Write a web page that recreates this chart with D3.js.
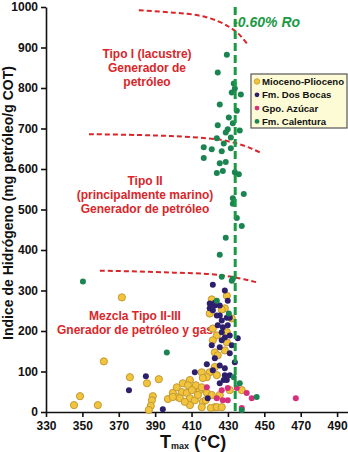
<!DOCTYPE html>
<html lang="en">
<head>
  <meta charset="UTF-8">
  <title>Indice de Hidrógeno vs Tmax</title>
  <script src="https://d3js.org/d3.v7.min.js"></script>
  <style>
    body { margin: 0; background: #fff; }
    svg { display: block; font-family: "Liberation Sans", Arial, sans-serif; }
    .axis text { font-size: 12px; font-weight: bold; fill: #111; }
    .axis path, .axis line { stroke: #111; stroke-width: 1.6px; }
    .zone { fill: #d9262a; font-size: 12px; font-weight: bold; text-anchor: middle; }
  </style>
</head>
<body>
  <div id="chart"></div>

  <script>
    const width = 348, height = 452;

    // series values as [Tmax °C, HI mg/g]
    const mioceno = [
      [371.7, 283], [361.8, 125], [376.1, 86], [348.7, 39], [345.4, 17], [358.5, 17],
      [385.5, 71], [392.0, 81], [397.0, 32], [388.7, 39], [388.2, 29], [387.6, 15],
      [386.5, 5], [399.7, 47], [402.5, 37], [420.0, 243], [428.3, 256], [432.1, 231],
      [421.7, 206], [429.4, 197], [423.9, 189], [421.7, 177], [429.4, 172], [428.3, 152],
      [422.8, 147], [424.4, 140], [422.8, 111], [415.6, 98], [420.0, 98], [423.9, 91],
      [418.4, 86], [409.1, 79], [416.2, 84], [405.2, 71], [408.0, 66], [401.9, 61],
      [411.8, 59], [404.7, 49], [407.4, 47], [414.5, 54], [431.0, 54], [399.7, 37],
      [403.6, 34], [409.1, 34], [416.2, 25], [409.1, 17], [422.8, 12], [412.4, 66],
      [415.6, 61], [418.4, 47], [417.8, 29], [415.6, 12], [420.6, 10], [423.9, 12],
      [426.6, 12], [437.6, 54], [429.4, 287], [421.1, 278], [426.6, 253], [411.8, 29],
      [413.5, 42], [406.3, 25], [421.1, 42], [410.2, 54], [425.5, 42]
    ];
    const dosBocas = [
      [384.9, 88], [375.6, 54], [394.2, 7], [411.8, 98], [418.4, 118], [421.7, 314],
      [420.0, 268], [422.8, 270], [425.5, 263], [421.7, 251], [423.9, 238], [429.4, 233],
      [426.6, 226], [424.4, 214], [427.2, 209], [429.9, 214], [426.6, 197], [428.3, 184],
      [431.0, 189], [426.6, 177], [435.4, 182], [421.1, 165], [425.5, 160], [431.0, 145],
      [433.8, 123], [425.5, 115], [421.7, 103], [428.3, 108], [428.3, 91], [431.0, 91],
      [429.4, 79], [427.7, 79], [425.5, 71], [418.9, 34], [422.8, 263], [420.0, 256],
      [425.5, 238], [431.0, 233], [429.9, 275], [428.3, 300], [432.1, 165], [422.8, 133]
    ];
    const azucar = [
      [434.9, 59], [440.3, 47], [443.1, 34], [467.3, 34], [437.6, 10], [426.6, 54],
      [429.9, 59], [423.9, 34], [427.2, 29], [429.9, 29], [418.4, 61]
    ];
    const calentura = [
      [429.4, 882], [424.4, 838], [433.2, 811], [433.8, 799], [432.1, 789], [437.1, 784],
      [425.5, 759], [434.9, 744], [430.5, 727], [424.4, 708], [432.7, 713], [429.9, 698],
      [428.8, 690], [436.5, 695], [423.9, 676], [431.6, 678], [427.7, 663], [416.7, 654],
      [421.1, 649], [426.6, 644], [431.6, 651], [416.7, 627], [425.5, 614], [428.8, 617],
      [423.9, 590], [427.2, 595], [433.8, 592], [436.0, 587], [438.7, 538], [432.7, 528],
      [432.7, 514], [434.9, 479], [437.6, 459], [428.8, 430], [425.5, 388], [426.6, 334],
      [432.7, 329], [432.1, 324], [350.3, 322], [396.4, 147], [430.5, 243], [423.9, 275],
      [436.5, 71], [445.8, 37], [437.6, 5], [433.2, 86]
    ];

    // dashed boundary curves between kerogen types
    const curveTipoI = [[381, 992], [400.3, 986], [414, 979], [424, 966], [431, 950], [436, 933], [440.4, 910]];
    const curveTipoII = [[353.6, 686], [380, 684], [400.3, 681], [418.4, 676], [427.2, 671], [434.9, 663], [441, 654], [447.5, 641]];
    const curveTipoIII = [[359.6, 349], [380, 347], [400.3, 344], [418.4, 341], [433.2, 333], [447.0, 319]];
    const roTmax = 434;

    const xTicks = d3.range(330, 491, 20);
    const yTicks = d3.range(0, 1001, 100);

    const series = [
      { name: "Mioceno-Plioceno", data: mioceno, fill: "#f1c43c", stroke: "#c39a36", r: 3.6 },
      { name: "Fm. Dos Bocas", data: dosBocas, fill: "#2d1f6b", stroke: "none", r: 3 },
      { name: "Gpo. Azúcar", data: azucar, fill: "#d62f7c", stroke: "none", r: 3 },
      { name: "Fm. Calentura", data: calentura, fill: "#1b8552", stroke: "none", r: 3 }
    ];

    const x = d3.scaleLinear().domain([330, 496]).range([46, 348]);
    const y = d3.scaleLinear().domain([0, 1000]).range([412, 7]);

    const svg = d3.select("#chart").append("svg")
      .attr("width", width)
      .attr("height", height);

    // axes
    svg.append("g")
      .attr("class", "axis")
      .attr("transform", `translate(0,${y(0)})`)
      .call(d3.axisBottom(x).tickValues(xTicks).tickSize(5).tickSizeOuter(0).tickPadding(4).tickFormat(d3.format("d")));

    svg.append("g")
      .attr("class", "axis")
      .attr("transform", `translate(${x(330)},0)`)
      .call(d3.axisLeft(y).tickValues(yTicks).tickSize(5).tickSizeOuter(0).tickPadding(3).tickFormat(d3.format("d")));

    // red dashed boundaries
    const line = d3.line().x(d => x(d[0])).y(d => y(d[1])).curve(d3.curveCatmullRom.alpha(0.5));
    [curveTipoI, curveTipoII, curveTipoIII].forEach(c => {
      svg.append("path")
        .attr("d", line(c))
        .attr("fill", "none")
        .attr("stroke", "#d9262a")
        .attr("stroke-width", 2)
        .attr("stroke-dasharray", "5,3");
    });

    // zone labels
    const zones = [
      { lines: ["Tipo I (lacustre)", "Generador de", "petróleo"], cx: 147, top: 58 },
      { lines: ["Tipo II", "(principalmente marino)", "Generador de petróleo"], cx: 145, top: 185 },
      { lines: ["Mezcla Tipo II-III", "Gnerador de petróleo y gas"], cx: 135, top: 320 }
    ];
    zones.forEach(z => {
      z.lines.forEach((t, i) => {
        svg.append("text")
          .attr("class", "zone")
          .attr("x", z.cx)
          .attr("y", z.top + i * 14)
          .text(t);
      });
    });

    // points
    series.forEach(s => {
      svg.append("g").selectAll("circle")
        .data(s.data)
        .enter()
        .append("circle")
        .attr("cx", d => x(d[0]))
        .attr("cy", d => y(d[1]))
        .attr("r", s.r)
        .attr("fill", s.fill)
        .attr("stroke", s.stroke)
        .attr("stroke-width", 1);
    });

    // 0.60% Ro line
    svg.append("line")
      .attr("x1", x(roTmax)).attr("x2", x(roTmax))
      .attr("y1", y(1000)).attr("y2", y(0))
      .attr("stroke", "#1a9a45")
      .attr("stroke-width", 3)
      .attr("stroke-dasharray", "8,4");

    svg.append("text")
      .attr("x", x(roTmax) - 2)
      .attr("y", 27)
      .attr("fill", "#1a9a45")
      .attr("font-size", "14px")
      .attr("font-weight", "bold")
      .attr("font-style", "italic")
      .text("-0.60% Ro");

    // legend
    const lg = svg.append("g").attr("transform", "translate(251,74)");
    lg.append("rect")
      .attr("width", 96).attr("height", 54)
      .attr("fill", "#fdfbd6")
      .attr("stroke", "#555")
      .attr("stroke-width", 1.2);
    series.forEach((s, i) => {
      const g = lg.append("g").attr("transform", `translate(0,${7.5 + i * 13.3})`);
      g.append("circle")
        .attr("cx", 6).attr("cy", 0)
        .attr("r", s.r === 3 ? 2.4 : 2.8)
        .attr("fill", s.fill)
        .attr("stroke", s.stroke)
        .attr("stroke-width", 0.8);
      g.append("text")
        .attr("x", 11).attr("y", 3.5)
        .attr("font-size", "9.6px")
        .attr("font-weight", "bold")
        .attr("fill", "#111")
        .text(s.name);
    });

    // axis titles
    svg.append("text")
      .attr("transform", "translate(13,203) rotate(-90)")
      .attr("text-anchor", "middle")
      .attr("font-size", "14px")
      .attr("font-weight", "bold")
      .attr("fill", "#111")
      .text("Indice de Hidrógeno (mg petróleo/g COT)");

    const xt = svg.append("text")
      .attr("x", 160)
      .attr("y", 448)
      .attr("font-weight", "bold")
      .attr("fill", "#111");
    xt.append("tspan").attr("font-size", "18px").text("T");
    xt.append("tspan").attr("font-size", "9px").attr("dy", 1).text("max");
    xt.append("tspan").attr("font-size", "18px").attr("dy", -1).text(" (°C)");
  </script>
</body>
</html>
